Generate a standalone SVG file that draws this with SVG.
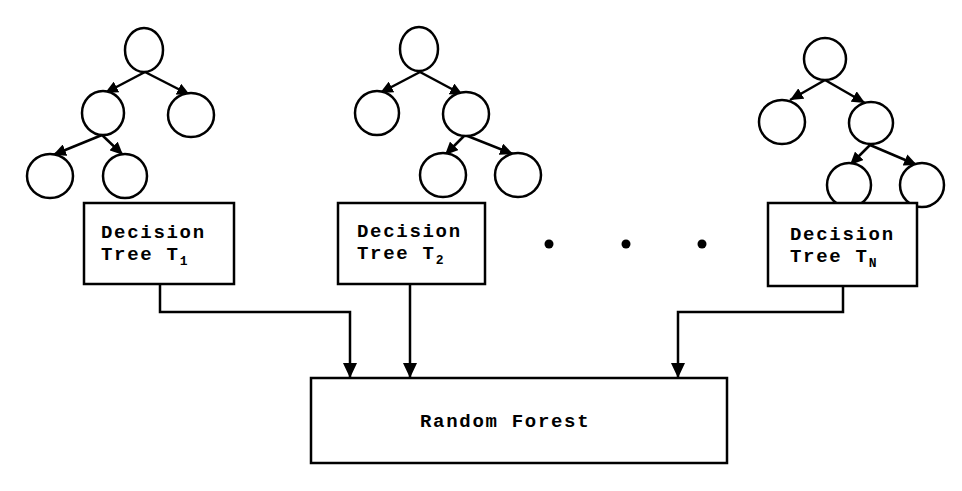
<svg xmlns="http://www.w3.org/2000/svg" width="962" height="491" viewBox="0 0 962 491">
<defs>
<marker id="ah" markerUnits="userSpaceOnUse" markerWidth="14" markerHeight="12" refX="13" refY="6" orient="auto"><path d="M0,0 L13,6 L0,12 z" fill="#000"/></marker>
<marker id="ah2" markerUnits="userSpaceOnUse" markerWidth="16" markerHeight="14" refX="15" refY="7" orient="auto"><path d="M0,0 L15,7 L0,14 z" fill="#000"/></marker>
</defs>
<style>
.c{fill:#fff;stroke:#000;stroke-width:2.5}
.e{fill:none;stroke:#000;stroke-width:2.5;marker-end:url(#ah)}
.b{fill:#fff;stroke:#000;stroke-width:2.5}
.t{font-family:"Liberation Mono",monospace;font-size:19px;letter-spacing:1.7px;font-weight:bold;fill:#000}
.s{font-family:"Liberation Mono",monospace;font-size:13px;letter-spacing:0;font-weight:bold;fill:#000}
.k{fill:none;stroke:#000;stroke-width:2.5;marker-end:url(#ah2)}
</style>
<rect width="962" height="491" fill="#fff"/>
<g id="tree1">
<path class="e" d="M145,72 L105,93"/>
<path class="e" d="M145,72 L190,95"/>
<path class="e" d="M102,135 L53,155"/>
<path class="e" d="M102,135 L123,155"/>
<ellipse class="c" cx="144" cy="50" rx="19" ry="22"/>
<ellipse class="c" cx="103" cy="113" rx="21" ry="22"/>
<ellipse class="c" cx="191" cy="115" rx="23" ry="22"/>
<ellipse class="c" cx="50" cy="176" rx="23" ry="22"/>
<ellipse class="c" cx="125" cy="176" rx="22" ry="22"/>
</g>
<g id="tree2">
<path class="e" d="M420,72 L380,93"/>
<path class="e" d="M420,72 L463,95"/>
<path class="e" d="M465,135 L445,155"/>
<path class="e" d="M465,135 L513,154"/>
<ellipse class="c" cx="419" cy="49" rx="19" ry="22"/>
<ellipse class="c" cx="377" cy="113" rx="22" ry="22"/>
<ellipse class="c" cx="466" cy="114" rx="23" ry="22"/>
<ellipse class="c" cx="443" cy="175" rx="23" ry="22"/>
<ellipse class="c" cx="518" cy="175" rx="23" ry="22"/>
</g>
<g id="treeN">
<path class="e" d="M825,80 L790,100"/>
<path class="e" d="M825,80 L865,103"/>
<path class="e" d="M870,145 L850,165"/>
<path class="e" d="M870,145 L917,165"/>
<ellipse class="c" cx="825" cy="59" rx="21" ry="21"/>
<ellipse class="c" cx="782" cy="122" rx="23" ry="22"/>
<ellipse class="c" cx="871" cy="123" rx="22" ry="21"/>
<ellipse class="c" cx="849" cy="185" rx="22" ry="22"/>
<ellipse class="c" cx="922" cy="185" rx="22" ry="22"/>
</g>
<g id="connectors">
<path class="k" d="M160,284 V312 H350 V378"/>
<path class="k" d="M410,284 V378"/>
<path class="k" d="M843,286 V312 H678 V378"/>
</g>
<g id="dt1">
<rect class="b" x="84" y="203" width="150" height="81"/>
<text class="t" x="101" y="238">Decision</text>
<text class="t" x="101" y="260">Tree T<tspan class="s" dy="5">1</tspan></text>
</g>
<g id="dt2">
<rect class="b" x="338" y="203" width="147" height="81"/>
<text class="t" x="357" y="237">Decision</text>
<text class="t" x="357" y="259">Tree T<tspan class="s" dy="5">2</tspan></text>
</g>
<g id="dots">
<circle cx="549" cy="244" r="4.5" fill="#000"/>
<circle cx="626" cy="244" r="4.5" fill="#000"/>
<circle cx="702" cy="244" r="4.5" fill="#000"/>
</g>
<g id="dtN">
<rect class="b" x="768" y="203" width="149" height="83"/>
<text class="t" x="790" y="240">Decision</text>
<text class="t" x="790" y="262">Tree T<tspan class="s" dy="5">N</tspan></text>
</g>
<g id="rf">
<rect class="b" x="311" y="378" width="416" height="85"/>
<text class="t" x="420" y="427">Random Forest</text>
</g>
</svg>
